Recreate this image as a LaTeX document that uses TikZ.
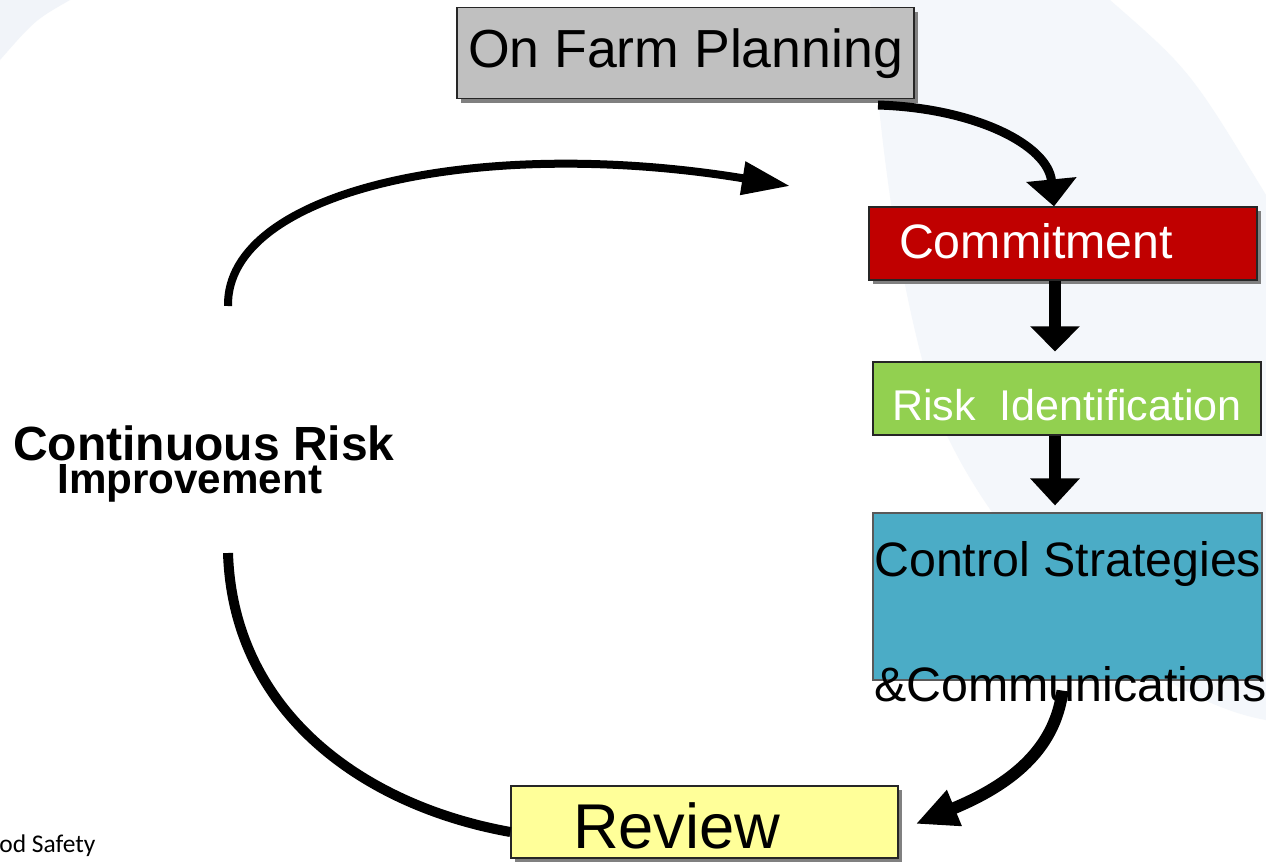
\documentclass[tikz,border=0pt]{standalone}
\usepackage{fontspec}
\setmainfont{Liberation Sans}
\newfontfamily\footfont{Carlito}
\usetikzlibrary{arrows.meta,shadows,calc}
\newdimen\pxu \pxu=0.2mm
\definecolor{boxgray}{HTML}{C0C0C0}
\definecolor{comred}{HTML}{C00000}
\definecolor{riskgreen}{HTML}{92D050}
\definecolor{ctrlblue}{HTML}{4BACC6}
\definecolor{revyellow}{HTML}{FFFF99}
\definecolor{swoosh}{HTML}{F4F7FB}
\definecolor{swooshb}{HTML}{F1F4F9}
\begin{document}
\begin{tikzpicture}[x=0.2mm,y=-0.2mm,
  box/.style={draw=black!85, line width=1.2\pxu, inner sep=0pt},
  shad/.style={drop shadow={shadow xshift=4\pxu, shadow yshift=-4\pxu, fill=black!50, opacity=1}},
  conn/.style={draw=black},
]
\useasboundingbox (0,0) rectangle (1266,861);
\fill[white] (0,0) rectangle (1266,861);
% faint background swooshes
\fill[swoosh] (870,0) -- (1110,0) .. controls (1190,70) .. (1266,195) -- (1266,720)
  .. controls (1150,700) and (1000,560) .. (940,420) .. controls (900,300) and (880,150) .. (870,0) -- cycle;
\fill[swooshb] (0,0) -- (70,0) .. controls (35,20) .. (0,60) -- cycle;

% boxes
\node[box, shad, fill=boxgray, minimum width=457\pxu, minimum height=91\pxu,
  text height=28\pxu, text depth=0pt,
  font=\fontsize{30.5}{36}\selectfont] (ofp) at (685.5,53) {On Farm Planning};
\node[box, shad, fill=comred, text=white, minimum width=388\pxu, minimum height=73\pxu,
  text width=328\pxu, inner xsep=30\pxu, align=left, text height=29\pxu, text depth=0pt,
  font=\fontsize{27.5}{33}\selectfont] (com) at (1063,243.5) {Commitment};
\node[box, fill=riskgreen, text=white, minimum width=388\pxu, minimum height=73\pxu,
  text height=43\pxu, text depth=0pt,
  font=\fontsize{24.5}{30}\selectfont] (rid) at (1067,398.5) {Risk~~Identification};
\node[box, draw=black!65, fill=ctrlblue, minimum width=389\pxu, minimum height=167\pxu] (cs) at (1067.5,596.5) {};
\node[anchor=north west, inner sep=0pt, align=left,
  font=\fontsize{27.5}{71}\selectfont] (cst) at (874,541) {Control Strategies\\\&Communications};
\node[box, shad, fill=revyellow, minimum width=387\pxu, minimum height=72\pxu,
  text width=263\pxu, inner xsep=62\pxu, align=left, text height=52\pxu, text depth=0pt,
  font=\fontsize{36}{43}\selectfont] (rev) at (704.5,822) {Review};

\node[anchor=north west, inner sep=0pt, align=left,
  font=\bfseries\fontsize{27.3}{19}\selectfont] (cri) at (13,425)
  {Continuous Risk\\{\fontsize{24}{19}\selectfont\hspace*{44\pxu}Improvement}};

\node[anchor=base west, inner sep=0pt, font=\footfont\fontsize{14.5}{17}\selectfont] (foot) at (-1,852) {od Safety};

% connectors
\coordinate (a1s) at (878,105);
\draw[conn, line width=1.8mm, -{Triangle[width=9.8mm,length=5.4mm]}]
  (a1s) .. controls (975,108) and (1048,145) .. ($(com.north)+(-9,0)$);
\draw[conn, line width=2.4mm, -{Triangle[width=9.6mm,length=5mm]}]
  ($(com.south)+(-8,0)$) -- ($(rid.north)+(-12,-10)$);
\draw[conn, line width=2.4mm, -{Triangle[width=9.6mm,length=5.4mm]}]
  ($(rid.south)+(-12,0)$) -- ($(cs.north)+(-12.5,-7)$);
\coordinate (a4s) at ($(cs.south)+(-5,10)$);
\draw[conn, line width=2.4mm, -{Triangle[width=7.2mm,length=8.4mm]}]
  (a4s) .. controls (1055,750) and (1010,785) .. ($(rev.east)+(17,2)$);
\coordinate (a5s) at (228,306);
\coordinate (a5e) at (790,186);
\draw[conn, line width=1.6mm, -{Triangle[width=6.4mm,length=9.6mm]}]
  (a5s) .. controls (226,190) and (480,135) .. (a5e);
\coordinate (a6s) at (228,553);
\draw[conn, line width=2mm]
  (a6s) .. controls (233,710) and (360,805) .. ($(rev.west)+(0,10)$);
\end{tikzpicture}
\end{document}
